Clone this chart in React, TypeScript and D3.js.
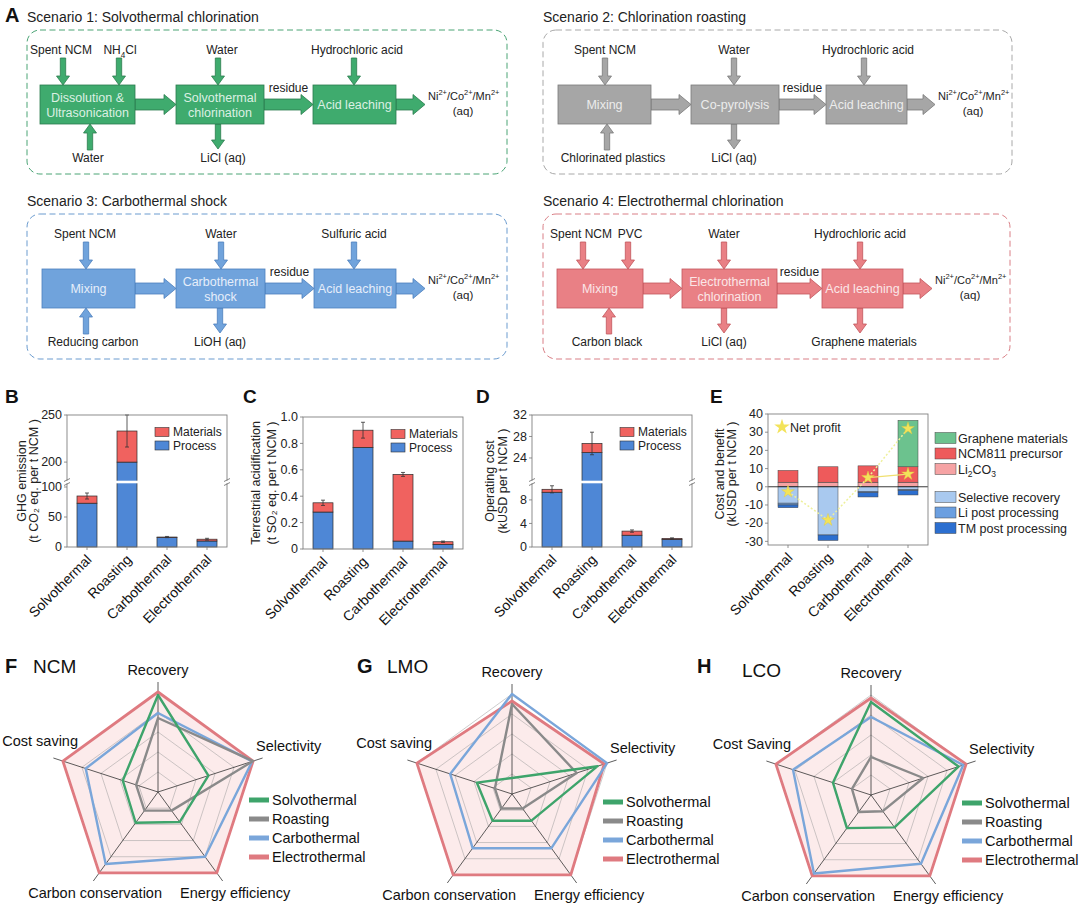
import React from 'react';
import * as d3 from 'd3';

const FONT = '"Liberation Sans", Arial, Helvetica, sans-serif';

// ---------- data ----------
const scenarios = ['Solvothermal', 'Roasting', 'Carbothermal', 'Electrothermal'];

// B: GHG emission (t CO2 eq. per t NCM)
const ghgProcess = [73, 200, 16, 10];
const ghgMaterials = [12, 33, 0.6, 3];
const ghgError = [5, 17, 1, 1.5];
const ghgTicksLower = [0, 50, 100];
const ghgTicksUpper = [200, 250];

// C: terrestrial acidification (t SO2 eq. per t NCM)
const acidProcess = [0.28, 0.77, 0.06, 0.035];
const acidMaterials = [0.07, 0.13, 0.505, 0.02];
const acidError = [0.02, 0.06, 0.015, 0.005];
const acidTicks = [0, 0.2, 0.4, 0.6, 0.8, 1.0];

// D: operating cost (kUSD per t NCM)
const costProcess = [9.3, 25, 2.0, 1.3];
const costMaterials = [0.5, 1.7, 0.7, 0.15];
const costError = [0.6, 2.1, 0.2, 0.1];
const costTicksLower = [0, 4, 8];
const costTicksUpper = [24, 28, 32];

// E: cost and benefit (kUSD per t NCM)
const graphene = [0, 0, 0, 25.5];
const ncm811 = [6.5, 8.5, 9, 8.5];
const li2co3 = [2.5, 2.5, 2.5, 2.5];
const selectiveRecovery = [-9, -26.5, -2.5, -1.6];
const liPost = [-1, 0, -0.6, -0.4];
const tmPost = [-1.5, -3, -2.5, -2.5];
const netProfit = [-2.7, -18.3, 5, 32];
const netProfitNoGraphene = 7;
const benefitTicks = [-30, -20, -10, 0, 10, 20, 30, 40];

// F-H: radar scores (0-1), axes clockwise from top
const radarAxes = ['Recovery', 'Selectivity', 'Energy efficiency', 'Carbon conservation', 'Cost saving'];
const radarAxesLco = ['Recovery', 'Selectivity', 'Energy efficiency', 'Carbon conservation', 'Cost Saving'];
const ncmSolvothermal = [0.97, 0.53, 0.37, 0.38, 0.37];
const ncmRoasting = [0.74, 1.0, 0.23, 0.23, 0.23];
const ncmCarbothermal = [0.79, 0.99, 0.8, 0.89, 0.76];
const ncmElectrothermal = [1, 1, 1, 1, 1];
const lmoSolvothermal = [0.16, 0.9, 0.33, 0.33, 0.37];
const lmoRoasting = [0.9, 0.68, 0.18, 0.18, 0.18];
const lmoCarbothermal = [1.0, 1.0, 0.67, 0.67, 0.65];
const lmoElectrothermal = [0.93, 0.97, 1, 1, 1];
const lcoSolvothermal = [0.93, 0.92, 0.4, 0.41, 0.4];
const lcoRoasting = [0.38, 0.55, 0.2, 0.21, 0.2];
const lcoCarbothermal = [0.78, 0.97, 0.85, 0.97, 0.82];
const lcoElectrothermal = [0.97, 1, 1, 1, 1];

const radarColors: Record<string, string> = {
  Solvothermal: '#3ea46b',
  Roasting: '#8a8a8a',
  Carbothermal: '#7aa6da',
  Electrothermal: '#df7a80',
};

const PROCESS = '#4e87d6';
const MATERIALS = '#f0625f';

// ---------- helpers ----------
// "NH_{4}Cl", "Ni^{2+}" -> tspans
function rich(s: string, fs: number) {
  const parts = s.split(/(_\{[^}]*\}|\^\{[^}]*\})/).filter(p => p);
  let cur = 0;
  return parts.map((p, i) => {
    let target = 0;
    let size = fs;
    let txt = p;
    if (p.startsWith('_{')) { target = fs * 0.3; size = fs * 0.68; txt = p.slice(2, -1); }
    else if (p.startsWith('^{')) { target = -fs * 0.42; size = fs * 0.68; txt = p.slice(2, -1); }
    const dy = target - cur;
    cur = target;
    return <tspan key={i} dy={dy} fontSize={size}>{txt}</tspan>;
  });
}

function vArrow(x: number, y0: number, y1: number) {
  const dir = Math.sign(y1 - y0);
  const hl = 9, sw = 2.7, hw = 6.5;
  const yb = y1 - dir * hl;
  return `M${x - sw},${y0}L${x + sw},${y0}L${x + sw},${yb}L${x + hw},${yb}L${x},${y1}L${x - hw},${yb}L${x - sw},${yb}Z`;
}

function hArrow(x0: number, x1: number, y: number) {
  const hl = 12, sh = 5.5, hh = 10;
  const xb = x1 - hl;
  return `M${x0},${y - sh}L${xb},${y - sh}L${xb},${y - hh}L${x1},${y}L${xb},${y + hh}L${xb},${y + sh}L${x0},${y + sh}Z`;
}

// ---------- panel A ----------
interface Flow {
  title: string; ox: number; oy: number; w: number; h: number;
  fill: string; stroke: string; text: string; dash: string;
  boxes: { x0: number; x1: number; lines: string[] }[];
  topIn: { x: number; label: string; lx?: number }[];
  bottomIn: { x: number; label: string; lx?: number }[];
  bottomOut: { x: number; label: string; lx?: number }[];
  outEnd: number;
}

const flows: Flow[] = [
  {
    title: 'Scenario 1: Solvothermal chlorination', ox: 27, oy: 30, w: 480, h: 144,
    fill: '#3fab6e', stroke: '#2b7c4e', text: '#dcf0e3', dash: '#4aa475',
    boxes: [
      { x0: 40, x1: 135, lines: ['Dissolution &', 'Ultrasonication'] },
      { x0: 176, x1: 264, lines: ['Solvothermal', 'chlorination'] },
      { x0: 313, x1: 396, lines: ['Acid leaching'] },
    ],
    topIn: [
      { x: 63, label: 'Spent NCM', lx: 61 },
      { x: 119, label: 'NH_{4}Cl', lx: 120 },
      { x: 218, label: 'Water', lx: 222 },
      { x: 354, label: 'Hydrochloric acid', lx: 357 },
    ],
    bottomIn: [{ x: 90, label: 'Water', lx: 88 }],
    bottomOut: [{ x: 218, label: 'LiCl (aq)', lx: 223 }],
    outEnd: 425,
  },
  {
    title: 'Scenario 2: Chlorination roasting', ox: 543, oy: 30, w: 469, h: 144,
    fill: '#a6a6a6', stroke: '#7a7a7a', text: '#ececec', dash: '#a8a8a8',
    boxes: [
      { x0: 558, x1: 651, lines: ['Mixing'] },
      { x0: 691, x1: 779, lines: ['Co-pyrolysis'] },
      { x0: 826, x1: 907, lines: ['Acid leaching'] },
    ],
    topIn: [
      { x: 605, label: 'Spent NCM' },
      { x: 734, label: 'Water' },
      { x: 864, label: 'Hydrochloric acid', lx: 868 },
    ],
    bottomIn: [{ x: 607, label: 'Chlorinated plastics', lx: 613 }],
    bottomOut: [{ x: 734, label: 'LiCl (aq)' }],
    outEnd: 935,
  },
  {
    title: 'Scenario 3: Carbothermal shock', ox: 27, oy: 214, w: 480, h: 145,
    fill: '#70a3dc', stroke: '#4d7fbd', text: '#e6eefa', dash: '#6a9bcf',
    boxes: [
      { x0: 42, x1: 135, lines: ['Mixing'] },
      { x0: 176, x1: 265, lines: ['Carbothermal', 'shock'] },
      { x0: 314, x1: 396, lines: ['Acid leaching'] },
    ],
    topIn: [
      { x: 86, label: 'Spent NCM', lx: 85 },
      { x: 221, label: 'Water' },
      { x: 354, label: 'Sulfuric acid' },
    ],
    bottomIn: [{ x: 86, label: 'Reducing carbon', lx: 93 }],
    bottomOut: [{ x: 220, label: 'LiOH (aq)' }],
    outEnd: 425,
  },
  {
    title: 'Scenario 4: Electrothermal chlorination', ox: 543, oy: 214, w: 467, h: 145,
    fill: '#e98085', stroke: '#c2565c', text: '#fbe6e7', dash: '#d97f86',
    boxes: [
      { x0: 557, x1: 643, lines: ['Mixing'] },
      { x0: 682, x1: 777, lines: ['Electrothermal', 'chlorination'] },
      { x0: 822, x1: 903, lines: ['Acid leaching'] },
    ],
    topIn: [
      { x: 583, label: 'Spent NCM', lx: 581 },
      { x: 628, label: 'PVC', lx: 630 },
      { x: 724, label: 'Water' },
      { x: 860, label: 'Hydrochloric acid' },
    ],
    bottomIn: [{ x: 609, label: 'Carbon black', lx: 607 }],
    bottomOut: [
      { x: 724, label: 'LiCl (aq)' },
      { x: 860, label: 'Graphene materials', lx: 864 },
    ],
    outEnd: 932,
  },
];

function FlowDiagram({ f }: { f: Flow }) {
  const bt = f.oy + 55;
  const bb = f.oy + 94;
  const my = f.oy + 74.5;
  const fs = 12;
  const arrowProps = { fill: f.fill, stroke: f.stroke, strokeWidth: 0.8 };
  return (
    <g>
      <text x={f.ox} y={f.oy - 8} fontSize={14} fill="#222">{f.title}</text>
      <rect x={f.ox} y={f.oy} width={f.w} height={f.h} rx={13} fill="none"
        stroke={f.dash} strokeWidth={1} strokeDasharray="6 3.5" />
      {f.topIn.map((t, i) => (
        <g key={'t' + i}>
          <text x={t.lx ?? t.x} y={f.oy + 24} fontSize={fs} textAnchor="middle" fill="#222">{rich(t.label, fs)}</text>
          <path d={vArrow(t.x, f.oy + 28, bt)} {...arrowProps} />
        </g>
      ))}
      {f.bottomIn.map((t, i) => (
        <g key={'bi' + i}>
          <text x={t.lx ?? t.x} y={f.oy + 132} fontSize={fs} textAnchor="middle" fill="#222">{t.label}</text>
          <path d={vArrow(t.x, f.oy + 120, bb)} {...arrowProps} />
        </g>
      ))}
      {f.bottomOut.map((t, i) => (
        <g key={'bo' + i}>
          <text x={t.lx ?? t.x} y={f.oy + 132} fontSize={fs} textAnchor="middle" fill="#222">{t.label}</text>
          <path d={vArrow(t.x, bb, f.oy + 119)} {...arrowProps} />
        </g>
      ))}
      {f.boxes.slice(0, -1).map((b, i) => (
        <path key={'h' + i} d={hArrow(b.x1, f.boxes[i + 1].x0, my)} {...arrowProps} />
      ))}
      <path d={hArrow(f.boxes[2].x1, f.outEnd, my)} {...arrowProps} />
      {f.boxes.map((b, i) => (
        <g key={'b' + i}>
          <rect x={b.x0} y={bt} width={b.x1 - b.x0} height={bb - bt} fill={f.fill} stroke={f.stroke} strokeWidth={0.8} />
          {b.lines.map((l, j) => (
            <text key={j} x={(b.x0 + b.x1) / 2}
              y={my + 4.5 + (j - (b.lines.length - 1) / 2) * 15}
              fontSize={12.5} textAnchor="middle" fill={f.text}>{l}</text>
          ))}
        </g>
      ))}
      <text x={(f.boxes[1].x1 + f.boxes[2].x0) / 2} y={f.oy + 62} fontSize={fs} textAnchor="middle" fill="#222">residue</text>
      <text x={f.outEnd + 3} y={f.oy + 70} fontSize={11} fill="#222">{rich('Ni^{2+}/Co^{2+}/Mn^{2+}', 11)}</text>
      <text x={f.outEnd + 38} y={f.oy + 85} fontSize={11.5} textAnchor="middle" fill="#222">(aq)</text>
    </g>
  );
}

// ---------- panels B-D ----------
type Seg = { domain: [number, number]; range: [number, number]; ticks: number[] };

function BarPanel(props: {
  letter: string; letterX: number;
  left: number; top: number; bottom: number;
  segs: Seg[];
  process: number[]; materials: number[]; errors: number[];
  title: [string, string]; titleX: [number, number];
  fmt: (v: number) => string;
}) {
  const { left, top, bottom, segs, process, materials, errors } = props;
  const right = left + 160;
  const x = d3.scaleBand<string>().domain(scenarios).range([left, right]).paddingInner(0.5).paddingOuter(0.25);
  const scales = segs.map(s => d3.scaleLinear().domain(s.domain).range(s.range));
  const y = (v: number) => {
    if (segs.length > 1 && v >= segs[1].domain[0]) return scales[1](v);
    return scales[0](Math.min(v, segs[0].domain[1]));
  };
  const breakY = segs.length > 1 ? (segs[0].range[1] + segs[1].range[0]) / 2 : null;
  const bw = x.bandwidth();
  const midY = (top + bottom) / 2;
  return (
    <g>
      <text x={props.letterX} y={403} fontSize={19} fontWeight="bold" fill="#111">{props.letter}</text>
      {scenarios.map((s, i) => {
        const x0 = x(s)!;
        const tot = process[i] + materials[i];
        const cx = x0 + bw / 2;
        return (
          <g key={s}>
            <rect x={x0} y={y(process[i])} width={bw} height={y(0) - y(process[i])} fill={PROCESS} stroke="#2b2b2b" strokeWidth={0.7} />
            <rect x={x0} y={y(tot)} width={bw} height={y(process[i]) - y(tot)} fill={MATERIALS} stroke="#2b2b2b" strokeWidth={0.7} />
            <line x1={cx} x2={cx} y1={y(tot - errors[i])} y2={y(tot + errors[i])} stroke="#333" strokeWidth={0.8} />
            <line x1={cx - 2} x2={cx + 2} y1={y(tot + errors[i])} y2={y(tot + errors[i])} stroke="#333" strokeWidth={0.8} />
            <line x1={cx - 2} x2={cx + 2} y1={y(tot - errors[i])} y2={y(tot - errors[i])} stroke="#333" strokeWidth={0.8} />
            <line x1={cx} x2={cx} y1={bottom} y2={bottom + 3} stroke="#777" strokeWidth={0.8} />
            <text transform={`translate(${cx + 2},${bottom + 10}) rotate(-45)`} dy="0.35em"
              textAnchor="end" fontSize={14} fill="#111">{s}</text>
          </g>
        );
      })}
      <rect x={left} y={top} width={right - left} height={bottom - top} fill="none" stroke="#808080" strokeWidth={0.9} />
      {breakY !== null && (
        <g>
          <rect x={left - 3} y={breakY - 1.3} width={right - left + 6} height={2.6} fill="#fff" />
          {[left, right].map(bx => (
            <g key={bx} stroke="#666" strokeWidth={0.8}>
              <line x1={bx - 3} y1={breakY - 0.5} x2={bx + 3} y2={breakY - 3.5} />
              <line x1={bx - 3} y1={breakY + 3.5} x2={bx + 3} y2={breakY + 0.5} />
            </g>
          ))}
        </g>
      )}
      {segs.map((sg, k) => sg.ticks.map(t => (
        <g key={k + '-' + t}>
          <line x1={left - 3} x2={left} y1={scales[k](t)} y2={scales[k](t)} stroke="#777" strokeWidth={0.8} />
          <text x={left - 5} y={scales[k](t) + 4.3} fontSize={12.5} textAnchor="end" fill="#222">{props.fmt(t)}</text>
        </g>
      )))}
      {[['Materials', MATERIALS], ['Process', PROCESS]].map(([lab, c], i) => (
        <g key={lab}>
          <rect x={left + 88} y={top + 12.5 + i * 13.5} width={14} height={9} fill={c} stroke="#333" strokeWidth={0.6} />
          <text x={left + 106} y={top + 21 + i * 13.5} fontSize={12} fill="#222">{lab}</text>
        </g>
      ))}
      {props.title.map((t, i) => (
        <text key={i} transform={`translate(${props.titleX[i]},${midY}) rotate(-90)`} textAnchor="middle" fontSize={12.5} fill="#222">{t}</text>
      ))}
    </g>
  );
}

// ---------- panel E ----------
const benefitKeys = ['li2co3', 'ncm811', 'graphene', 'selectiveRecovery', 'liPost', 'tmPost'];
const benefitColors: Record<string, string> = {
  graphene: '#6cc28e', ncm811: '#ee5a5b', li2co3: '#f6a3a4',
  selectiveRecovery: '#a9c9ef', liPost: '#6b9fe0', tmPost: '#2c6fd0',
};
const benefitLegend = [
  ['graphene', 'Graphene materials'], ['ncm811', 'NCM811 precursor'], ['li2co3', 'Li_{2}CO_{3}'],
  ['selectiveRecovery', 'Selective recovery'], ['liPost', 'Li post processing'], ['tmPost', 'TM post processing'],
];

function BenefitPanel() {
  const left = 768, right = 928, top = 414, bottom = 545;
  const x = d3.scaleBand<string>().domain(scenarios).range([left, right]).paddingInner(0.5).paddingOuter(0.25);
  const y = d3.scaleLinear().domain([-32, 40]).range([bottom, top]);
  const rows = scenarios.map((name, i) => ({
    name, li2co3: li2co3[i], ncm811: ncm811[i], graphene: graphene[i],
    selectiveRecovery: selectiveRecovery[i], liPost: liPost[i], tmPost: tmPost[i],
  }));
  const series = d3.stack<any>().keys(benefitKeys).offset(d3.stackOffsetDiverging)(rows);
  const bw = x.bandwidth();
  const cxs = scenarios.map(s => x(s)! + bw / 2);
  const star = d3.symbol(d3.symbolStar, 50)()!;
  const line = d3.line<number>().x((_, i) => cxs[i]).y(v => y(v));
  const mid = 474;
  return (
    <g>
      <text x={710} y={403} fontSize={19} fontWeight="bold" fill="#111">E</text>
      {series.map(sr => sr.map((d, i) => {
        if (d[1] === d[0]) return null;
        return <rect key={sr.key + i} x={x(scenarios[i])!} y={y(d[1])} width={bw} height={y(d[0]) - y(d[1])}
          fill={benefitColors[sr.key]} stroke="#444" strokeWidth={0.5} />;
      }))}
      <line x1={left} x2={right} y1={y(0)} y2={y(0)} stroke="#222" strokeWidth={0.9} />
      <path d={line(netProfit)!} fill="none" stroke="#eef09c" strokeWidth={1.5} strokeDasharray="2 2" />
      <line x1={cxs[2]} x2={cxs[3]} y1={y(netProfit[2])} y2={y(netProfitNoGraphene)} stroke="#f0e070" strokeWidth={1.2} />
      {netProfit.map((v, i) => (
        <path key={i} d={star} transform={`translate(${cxs[i]},${y(v)})`} fill="#f3e35a" stroke="#e0c93c" strokeWidth={0.4} />
      ))}
      <path d={star} transform={`translate(${cxs[3]},${y(netProfitNoGraphene)})`} fill="#f3e35a" stroke="#e0c93c" strokeWidth={0.4} />
      <rect x={left} y={top} width={right - left} height={bottom - top} fill="none" stroke="#808080" strokeWidth={0.9} />
      {benefitTicks.map(t => (
        <g key={t}>
          <line x1={left - 3} x2={left} y1={y(t)} y2={y(t)} stroke="#777" strokeWidth={0.8} />
          <text x={left - 5} y={y(t) + 4.3} fontSize={12.5} textAnchor="end" fill="#222">{t}</text>
        </g>
      ))}
      {scenarios.map((s, i) => (
        <g key={s}>
          <line x1={cxs[i]} x2={cxs[i]} y1={bottom} y2={bottom + 3} stroke="#777" strokeWidth={0.8} />
          <text transform={`translate(${cxs[i] + 2},${bottom + 10}) rotate(-45)`} dy="0.35em"
            textAnchor="end" fontSize={14} fill="#111">{s}</text>
        </g>
      ))}
      <path d={d3.symbol(d3.symbolStar, 75)()!} transform={`translate(${left + 14},${top + 13})`} fill="#f3e35a" />
      <text x={left + 22} y={top + 17.5} fontSize={12.5} fill="#222">Net profit</text>
      {benefitLegend.map(([k, lab], i) => {
        const cy = i < 3 ? top + 24 + i * 15.5 : top + 83 + (i - 3) * 15.5;
        return (
          <g key={k}>
            <rect x={935} y={cy - 5.5} width={21} height={11} fill={benefitColors[k]} stroke="#444" strokeWidth={0.5} />
            <text x={958} y={cy + 4.5} fontSize={12.5} fill="#222">{rich(lab, 12.5)}</text>
          </g>
        );
      })}
      <text transform={`translate(724,${mid}) rotate(-90)`} textAnchor="middle" fontSize={12.5} fill="#222">Cost and benefit</text>
      <text transform={`translate(736,${mid}) rotate(-90)`} textAnchor="middle" fontSize={12.5} fill="#222">(kUSD per t NCM )</text>
    </g>
  );
}

// ---------- panels F-H ----------
function Radar(props: {
  cx: number; cy: number; letter: string; letterX: number;
  name: string; nameX: number; nameY: number; labels: string[];
  series: { name: string; values: number[] }[];
}) {
  const { cx, cy, labels, series } = props;
  const r = d3.scaleLinear().domain([0, 1]).range([0, 100]);
  const ang = (i: number) => (i * 2 * Math.PI) / 5;
  const radial = d3.lineRadial<number>().angle((_, i) => ang(i)).radius(v => r(v)).curve(d3.curveLinearClosed);
  const rings = [0.2, 0.4, 0.6, 0.8, 1.0];
  const electro = series.find(s => s.name === 'Electrothermal')!;
  const labelPos: [number, number, string][] = [
    [0, -117, 'middle'], [98, -41, 'start'], [22, 106, 'start'], [4, 106, 'end'], [-80, -46, 'end'],
  ];
  const drawOrder = ['Electrothermal', 'Carbothermal', 'Roasting', 'Solvothermal'];
  return (
    <g>
      <text x={props.letterX} y={673} fontSize={20} fontWeight="bold" fill="#111">{props.letter}</text>
      <text x={props.nameX} y={props.nameY} fontSize={19} fill="#111">{props.name}</text>
      <g transform={`translate(${cx},${cy})`}>
        <path d={radial(electro.values)!} fill="#fbe4e4" opacity={0.75} />
        {rings.map(v => (
          <path key={v} d={radial([v, v, v, v, v])!} fill="none" stroke="#9a9a9a" strokeWidth={0.5} />
        ))}
        {labels.map((_, i) => {
          const [px, py] = d3.pointRadial(ang(i), 110);
          return <line key={i} x1={0} y1={0} x2={px} y2={py} stroke="#333" strokeWidth={0.8} />;
        })}
        {drawOrder.map(n => {
          const s = series.find(d => d.name === n)!;
          return <path key={n} d={radial(s.values)!} fill="none" stroke={radarColors[n]}
            strokeWidth={n === 'Electrothermal' ? 2.8 : 2.4} strokeLinejoin="round" />;
        })}
        {labels.map((l, i) => (
          <text key={l} x={labelPos[i][0]} y={labelPos[i][1]} textAnchor={labelPos[i][2] as any} fontSize={14.5} fill="#111">{l}</text>
        ))}
        {series.map((s, i) => (
          <g key={s.name}>
            <line x1={91} x2={111} y1={8 + i * 19} y2={8 + i * 19} stroke={radarColors[s.name]} strokeWidth={5} />
            <text x={114} y={13 + i * 19} fontSize={14.5} fill="#111">{s.name}</text>
          </g>
        ))}
      </g>
    </g>
  );
}

const fmtInt = (v: number) => String(v);
const fmtDec = (v: number) => (v === 0 ? '0' : d3.format('.1f')(v));

export default function App() {
  return (
    <svg width={1080} height={905} style={{ position: 'absolute', left: 0, top: 0, background: '#fff' }}
      fontFamily={FONT}>
      <rect width={1080} height={905} fill="#fff" />
      <text x={5} y={22} fontSize={20} fontWeight="bold" fill="#111">A</text>
      {flows.map(f => <FlowDiagram key={f.title} f={f} />)}

      <BarPanel letter="B" letterX={5} left={67} top={415} bottom={547}
        segs={[
          { domain: [0, 105], range: [547, 484], ticks: ghgTicksLower },
          { domain: [181, 250], range: [480, 415], ticks: ghgTicksUpper },
        ]}
        process={ghgProcess} materials={ghgMaterials} errors={ghgError}
        title={['GHG emission', '(t CO₂ eq. per t NCM )']} titleX={[26, 38]} fmt={fmtInt} />
      <BarPanel letter="C" letterX={243} left={303} top={417} bottom={549}
        segs={[{ domain: [0, 1], range: [549, 417], ticks: acidTicks }]}
        process={acidProcess} materials={acidMaterials} errors={acidError}
        title={['Terrestrial acidification', '(t SO₂ eq. per t NCM )']} titleX={[260, 276]} fmt={fmtDec} />
      <BarPanel letter="D" letterX={476} left={532} top={415} bottom={547}
        segs={[
          { domain: [0, 10.7], range: [547, 484], ticks: costTicksLower },
          { domain: [19.9, 32], range: [480, 415], ticks: costTicksUpper },
        ]}
        process={costProcess} materials={costMaterials} errors={costError}
        title={['Operating cost', '(kUSD per t NCM )']} titleX={[494, 507]} fmt={fmtInt} />
      <BenefitPanel />

      <Radar cx={158} cy={792} letter="F" letterX={5} name="NCM" nameX={33} nameY={673} labels={radarAxes}
        series={[
          { name: 'Solvothermal', values: ncmSolvothermal },
          { name: 'Roasting', values: ncmRoasting },
          { name: 'Carbothermal', values: ncmCarbothermal },
          { name: 'Electrothermal', values: ncmElectrothermal },
        ]} />
      <Radar cx={512} cy={794} letter="G" letterX={357} name="LMO" nameX={387} nameY={673} labels={radarAxes}
        series={[
          { name: 'Solvothermal', values: lmoSolvothermal },
          { name: 'Roasting', values: lmoRoasting },
          { name: 'Carbothermal', values: lmoCarbothermal },
          { name: 'Electrothermal', values: lmoElectrothermal },
        ]} />
      <Radar cx={871} cy={795} letter="H" letterX={697} name="LCO" nameX={742} nameY={677} labels={radarAxesLco}
        series={[
          { name: 'Solvothermal', values: lcoSolvothermal },
          { name: 'Roasting', values: lcoRoasting },
          { name: 'Carbothermal', values: lcoCarbothermal },
          { name: 'Electrothermal', values: lcoElectrothermal },
        ]} />
    </svg>
  );
}
